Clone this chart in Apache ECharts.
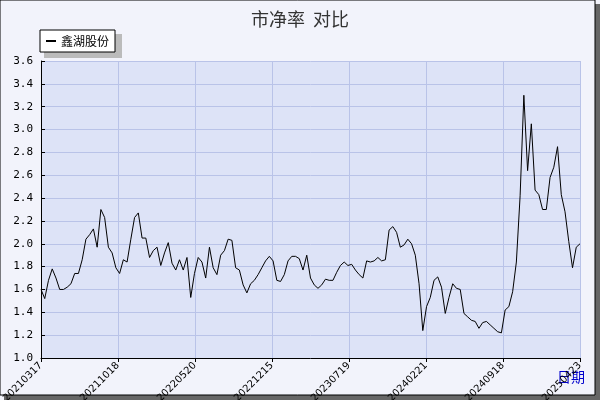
<!DOCTYPE html>
<html><head><meta charset="utf-8">
<script src="https://cdn.jsdelivr.net/npm/echarts@6/dist/echarts.min.js"></script>
<style>html,body{margin:0;padding:0;background:#fff}#c{width:600px;height:400px}</style>
</head><body><div id="c"></div>
<script>
const tickLabels = ['20210317','20211018','20220520','20221215','20230719','20240221','20240918','20250423'];
const seg1 = [1.6,1.52,1.68,1.78,1.7,1.6,1.6,1.62,1.65,1.74,1.74,1.86,2.04,2.08,2.13,1.97,2.3,2.23,1.97,1.92,1.79,1.74,1.86,1.84,2.04,2.23,2.27,2.05,2.05,1.88,1.94,1.97,1.81,1.92,2.01,1.83,1.77,1.86,1.77,1.88,1.53,1.74];
const seg2 = [1.88,1.84,1.7,1.97,1.79,1.73,1.9,1.94,2.04,2.03,1.79,1.77,1.64,1.57,1.65,1.68,1.73,1.79,1.85,1.89,1.85,1.68,1.67,1.73,1.85,1.89,1.89,1.87,1.77,1.9,1.7,1.64,1.61,1.64,1.69,1.68,1.68,1.75,1.81,1.84,1.81];
const seg3 = [1.82,1.77,1.73,1.7,1.85,1.84,1.85,1.88,1.85,1.86,2.12,2.15,2.1,1.97,1.99,2.04,2.0,1.9,1.65,1.24,1.45,1.53,1.68,1.71,1.62,1.39,1.53,1.65,1.61,1.6,1.39,1.36,1.33,1.32,1.26,1.31,1.32,1.29,1.26,1.23,1.22];
const seg4 = [1.42,1.45,1.58,1.84,2.42,3.3,2.64,3.05,2.47,2.43,2.3,2.3,2.58,2.67,2.85,2.43,2.28,2.02,1.79,1.97,2.0];
const values = seg1.concat(seg2, seg3, seg4);
const N = values.length - 1;
const step = N / (tickLabels.length - 1);
const chart = echarts.init(document.getElementById('c'));
chart.setOption({
  backgroundColor: '#f2f3fb',
  animation: false,
  graphic: [
    {type:'rect', shape:{x:4,y:4,width:596,height:396}, style:{fill:'#666'}, z:-10},
    {type:'rect', shape:{x:0,y:0,width:595,height:395}, style:{fill:'#f2f3fb',stroke:'#000',lineWidth:1}, z:-9},
    {type:'rect', shape:{x:44,y:34,width:78,height:24}, style:{fill:'#bbb'}, z:-1},
    {type:'text', left:557, top:370, style:{text:'日期', fill:'#0000cc', font:'14px "Noto Sans CJK SC"'}}
  ],
  title: {text:'市净率  对比', left:'center', top:5, textStyle:{fontSize:18, fontWeight:'normal', color:'#333', fontFamily:'Noto Sans CJK SC'}},
  legend: {left:40, top:30, itemWidth:10, itemHeight:2, backgroundColor:'#fff', borderColor:'#000', borderWidth:1, padding:[5,6,5,6],
    textStyle:{fontSize:12, color:'#000', fontFamily:'Noto Sans CJK SC'}, data:[{name:'鑫湖股份', icon:'rect'}]},
  grid: {left:41, right:20, top:61, bottom:42, outerBoundsMode:'none', containLabel:false, show:true, backgroundColor:'#dde3f7', borderWidth:0},
  xAxis: {type:'value', min:0, max:N, interval:step,
    axisLine:{lineStyle:{color:'#000'}}, axisTick:{inside:false, length:4, lineStyle:{color:'#000'}},
    splitLine:{show:true, lineStyle:{color:'#b9c3e8'}},
    axisLabel:{rotate:45, fontSize:10, color:'#000', fontFamily:'DejaVu Sans', margin:6,
      formatter: v => tickLabels[Math.round(v/step)] || ''}},
  yAxis: {type:'value', min:1.0, max:3.6, interval:0.2,
    axisLine:{show:true, lineStyle:{color:'#000'}}, axisTick:{show:true, inside:true, length:4, lineStyle:{color:'#000'}},
    splitLine:{show:true, lineStyle:{color:'#b9c3e8'}},
    axisLabel:{fontSize:11, color:'#000', fontFamily:'DejaVu Sans Mono', formatter: v => v.toFixed(1)}},
  series: [{name:'鑫湖股份', type:'line', symbol:'none', color:'#000', lineStyle:{width:1, color:'#000'},
    data: values.map((v,i)=>[i,v])}]
});
</script></body></html>
